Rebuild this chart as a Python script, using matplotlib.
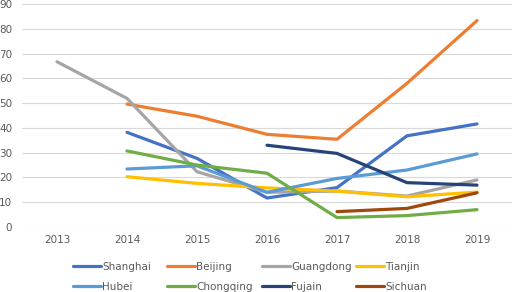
import matplotlib
matplotlib.use("Agg")
import matplotlib.pyplot as plt
import numpy as np

years = [2013, 2014, 2015, 2016, 2017, 2018, 2019]
nan = np.nan
shanghai = [nan, 38.2, 27.7, 11.7, 15.9, 36.8, 41.6]
beijing = [nan, 49.6, 44.7, 37.4, 35.4, 58.0, 83.3]
guangdong = [66.7, 51.9, 22.3, 14.0, 14.5, 12.5, 19.0]
tianjin = [nan, 20.3, 17.6, 15.8, 14.5, 12.2, 14.1]
hubei = [nan, 23.4, 24.7, 14.0, 19.6, 23.0, 29.5]
chongqing = [nan, 30.7, 25.0, 21.7, 3.8, 4.6, 7.0]
fujian = [nan, nan, nan, 33.0, 29.7, 17.9, 16.9]
sichuan = [nan, nan, nan, nan, 6.2, 7.5, 13.8]

series = [
    ("Shanghai", shanghai, "#4472C4"),
    ("Beijing", beijing, "#ED7D31"),
    ("Guangdong", guangdong, "#A5A5A5"),
    ("Tianjin", tianjin, "#FFC000"),
    ("Hubei", hubei, "#5B9BD5"),
    ("Chongqing", chongqing, "#70AD47"),
    ("Fujain", fujian, "#264478"),
    ("Sichuan", sichuan, "#9E480E"),
]

W, H = 512, 292
fig = plt.figure(figsize=(W / 100, H / 100), dpi=100)
ax = fig.add_axes([22 / W, 1 - 227 / H, 490 / W, 223 / H])
x = np.arange(len(years))
for name, vals, col in series:
    ax.plot(x, vals, color=col, lw=2.3, label=name, solid_capstyle="round")

ax.set_xlim(-0.5, len(years) - 0.5)
ax.set_ylim(0, 90)
ax.set_yticks(range(0, 91, 10))
ax.set_xticks(x)
ax.set_xticklabels([str(y) for y in years])
ax.grid(axis="y", color="#D9D9D9", lw=0.8)
ax.set_axisbelow(True)
for s in ax.spines.values():
    s.set_visible(False)
ax.tick_params(length=0, labelsize=7.5, colors="#595959", pad=6)
ax.tick_params(axis="y", pad=7)

handles, labels = ax.get_legend_handles_labels()
col_x = [71, 165, 260, 354]
for j, cx in enumerate(col_x):
    leg = fig.legend([handles[j], handles[j + 4]], [labels[j], labels[j + 4]],
                     loc="lower left", bbox_to_anchor=(cx / W, -0.005), ncol=1,
                     frameon=False, fontsize=7.5, handlelength=2.7,
                     handletextpad=0.15, labelspacing=0.95,
                     borderaxespad=0.0, borderpad=0.15)
    for t in leg.get_texts():
        t.set_color("#595959")

fig.savefig("out.png", dpi=100)
